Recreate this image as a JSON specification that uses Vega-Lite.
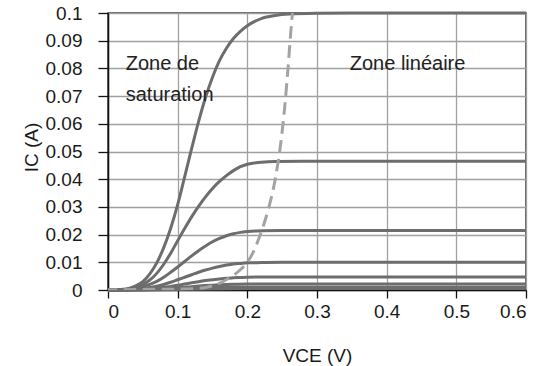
{
  "$schema": "https://vega.github.io/schema/vega-lite/v6.json",
  "width": 418,
  "height": 277,
  "autosize": "none",
  "padding": {"left": 108, "top": 13, "right": 10, "bottom": 76},
  "background": "white",
  "config": {
    "font": "Liberation Sans",
    "view": {"stroke": "#333333", "strokeWidth": 1.5},
    "axis": {
      "labelFont": "Liberation Sans",
      "labelFontSize": 19,
      "labelColor": "#1a1a1a",
      "titleFont": "Liberation Sans",
      "titleFontSize": 19,
      "titleFontWeight": "normal",
      "titleColor": "#1a1a1a",
      "domainColor": "#111111",
      "domainWidth": 1.5,
      "tickColor": "#111111",
      "tickWidth": 1.3,
      "gridColor": "#a0a0a0",
      "gridWidth": 1.3,
      "gridOpacity": 1
    }
  },
  "datasets": {
    "curves": [
      {"s":1,"v":0,"I":0},{"s":1,"v":0.01,"I":0},{"s":1,"v":0.02,"I":0.0002},{"s":1,"v":0.03,"I":0.0006},{"s":1,"v":0.04,"I":0.0015},{"s":1,"v":0.05,"I":0.003},{"s":1,"v":0.06,"I":0.0058},{"s":1,"v":0.07,"I":0.0098},{"s":1,"v":0.08,"I":0.0153},{"s":1,"v":0.09,"I":0.0223},{"s":1,"v":0.1,"I":0.0308},{"s":1,"v":0.11,"I":0.0408},{"s":1,"v":0.12,"I":0.051},{"s":1,"v":0.13,"I":0.0608},{"s":1,"v":0.14,"I":0.0695},{"s":1,"v":0.15,"I":0.0768},{"s":1,"v":0.16,"I":0.0828},{"s":1,"v":0.17,"I":0.0873},{"s":1,"v":0.18,"I":0.0908},{"s":1,"v":0.19,"I":0.0934},{"s":1,"v":0.2,"I":0.0954},{"s":1,"v":0.22,"I":0.098},{"s":1,"v":0.24,"I":0.0991},{"s":1,"v":0.26,"I":0.0996},{"s":1,"v":0.3,"I":0.0999},{"s":1,"v":0.35,"I":0.1},{"s":1,"v":0.6,"I":0.1},
      {"s":2,"v":0,"I":0},{"s":2,"v":0.01,"I":0},{"s":2,"v":0.02,"I":0.0001},{"s":2,"v":0.03,"I":0.0004},{"s":2,"v":0.04,"I":0.001},{"s":2,"v":0.05,"I":0.002},{"s":2,"v":0.06,"I":0.0036},{"s":2,"v":0.07,"I":0.006},{"s":2,"v":0.08,"I":0.0093},{"s":2,"v":0.09,"I":0.0133},{"s":2,"v":0.1,"I":0.0178},{"s":2,"v":0.11,"I":0.0222},{"s":2,"v":0.12,"I":0.0264},{"s":2,"v":0.13,"I":0.0302},{"s":2,"v":0.14,"I":0.0336},{"s":2,"v":0.15,"I":0.0366},{"s":2,"v":0.16,"I":0.0392},{"s":2,"v":0.17,"I":0.0413},{"s":2,"v":0.18,"I":0.0431},{"s":2,"v":0.19,"I":0.0445},{"s":2,"v":0.2,"I":0.0454},{"s":2,"v":0.22,"I":0.0461},{"s":2,"v":0.24,"I":0.0464},{"s":2,"v":0.28,"I":0.0465},{"s":2,"v":0.6,"I":0.0465},
      {"s":3,"v":0,"I":0},{"s":3,"v":0.02,"I":0.0001},{"s":3,"v":0.03,"I":0.0003},{"s":3,"v":0.04,"I":0.0006},{"s":3,"v":0.05,"I":0.0012},{"s":3,"v":0.06,"I":0.002},{"s":3,"v":0.07,"I":0.0031},{"s":3,"v":0.08,"I":0.0046},{"s":3,"v":0.09,"I":0.0064},{"s":3,"v":0.1,"I":0.0083},{"s":3,"v":0.11,"I":0.0103},{"s":3,"v":0.12,"I":0.0123},{"s":3,"v":0.13,"I":0.0142},{"s":3,"v":0.14,"I":0.0159},{"s":3,"v":0.15,"I":0.0174},{"s":3,"v":0.16,"I":0.0186},{"s":3,"v":0.17,"I":0.0196},{"s":3,"v":0.18,"I":0.0203},{"s":3,"v":0.19,"I":0.0208},{"s":3,"v":0.2,"I":0.0211},{"s":3,"v":0.22,"I":0.0214},{"s":3,"v":0.25,"I":0.0215},{"s":3,"v":0.6,"I":0.0215},
      {"s":4,"v":0,"I":0},{"s":4,"v":0.02,"I":0.0001},{"s":4,"v":0.03,"I":0.0002},{"s":4,"v":0.04,"I":0.0003},{"s":4,"v":0.05,"I":0.0006},{"s":4,"v":0.06,"I":0.0009},{"s":4,"v":0.07,"I":0.0014},{"s":4,"v":0.08,"I":0.002},{"s":4,"v":0.09,"I":0.0028},{"s":4,"v":0.1,"I":0.0037},{"s":4,"v":0.11,"I":0.0046},{"s":4,"v":0.12,"I":0.0055},{"s":4,"v":0.13,"I":0.0064},{"s":4,"v":0.14,"I":0.0072},{"s":4,"v":0.15,"I":0.0079},{"s":4,"v":0.16,"I":0.0085},{"s":4,"v":0.17,"I":0.009},{"s":4,"v":0.18,"I":0.0094},{"s":4,"v":0.19,"I":0.0096},{"s":4,"v":0.2,"I":0.0098},{"s":4,"v":0.22,"I":0.0099},{"s":4,"v":0.25,"I":0.01},{"s":4,"v":0.6,"I":0.01},
      {"s":5,"v":0,"I":0},{"s":5,"v":0.03,"I":0.0001},{"s":5,"v":0.05,"I":0.0003},{"s":5,"v":0.07,"I":0.0007},{"s":5,"v":0.08,"I":0.001},{"s":5,"v":0.09,"I":0.0013},{"s":5,"v":0.1,"I":0.0017},{"s":5,"v":0.11,"I":0.0022},{"s":5,"v":0.12,"I":0.0026},{"s":5,"v":0.13,"I":0.003},{"s":5,"v":0.14,"I":0.0034},{"s":5,"v":0.15,"I":0.0037},{"s":5,"v":0.16,"I":0.004},{"s":5,"v":0.17,"I":0.0042},{"s":5,"v":0.18,"I":0.0044},{"s":5,"v":0.19,"I":0.0045},{"s":5,"v":0.2,"I":0.0046},{"s":5,"v":0.23,"I":0.0047},{"s":5,"v":0.6,"I":0.0047},
      {"s":6,"v":0,"I":0},{"s":6,"v":0.05,"I":0.0001},{"s":6,"v":0.08,"I":0.0005},{"s":6,"v":0.1,"I":0.0008},{"s":6,"v":0.12,"I":0.0012},{"s":6,"v":0.14,"I":0.0016},{"s":6,"v":0.16,"I":0.0019},{"s":6,"v":0.18,"I":0.0021},{"s":6,"v":0.2,"I":0.0022},{"s":6,"v":0.6,"I":0.0022},
      {"s":7,"v":0,"I":0},{"s":7,"v":0.08,"I":0.0002},{"s":7,"v":0.1,"I":0.0004},{"s":7,"v":0.12,"I":0.0006},{"s":7,"v":0.14,"I":0.0008},{"s":7,"v":0.17,"I":0.00095},{"s":7,"v":0.2,"I":0.001},{"s":7,"v":0.6,"I":0.001},
      {"s":8,"v":0,"I":0},{"s":8,"v":0.1,"I":0.0002},{"s":8,"v":0.14,"I":0.0004},{"s":8,"v":0.2,"I":0.0005},{"s":8,"v":0.6,"I":0.0005}
    ],
    "locus": [
      {"v":0,"I":0},{"v":0.05,"I":0.0002},{"v":0.1,"I":0.0003},{"v":0.13,"I":0.0006},{"v":0.145,"I":0.0012},{"v":0.158,"I":0.0022},{"v":0.175,"I":0.0045},{"v":0.19,"I":0.0073},{"v":0.2,"I":0.01},{"v":0.21,"I":0.0145},{"v":0.22,"I":0.021},{"v":0.23,"I":0.029},{"v":0.24,"I":0.04},{"v":0.248,"I":0.053},{"v":0.254,"I":0.067},{"v":0.259,"I":0.082},{"v":0.262,"I":0.092},{"v":0.2655,"I":0.102}
    ],
    "labels": [
      {"t":"Zone de","v":0.0254,"I":0.0794},
      {"t":"saturation","v":0.0254,"I":0.0682},
      {"t":"Zone linéaire","v":0.347,"I":0.0794}
    ]
  },
  "encoding": {
    "x": {"field": "v", "type": "quantitative", "scale": {"domain": [0, 0.6], "nice": false},
      "axis": {"values": [0,0.1,0.2,0.3,0.4,0.5,0.6], "format": "~g", "tickSize": 8, "labelPadding": 4, "labelOverlap": false, "title": "VCE (V)", "titleX": 209, "titleY": 71, "titleBaseline": "alphabetic", "titleAlign": "center"}},
    "y": {"field": "I", "type": "quantitative", "scale": {"domain": [0, 0.1], "nice": false},
      "axis": {"values": [0,0.01,0.02,0.03,0.04,0.05,0.06,0.07,0.08,0.09,0.1], "tickCount": 11, "format": "~g", "tickSize": 10, "labelPadding": 16, "labelOverlap": false, "labelBound": false, "labelFlush": false, "title": "IC (A)", "titleX": -77, "titleY": 134, "titleAngle": -90, "titleAlign": "center", "titleBaseline": "middle"}}
  },
  "layer": [
    {
      "data": {"name": "curves"},
      "mark": {"type": "line", "color": "#6d6d6d", "strokeWidth": 3, "interpolate": "monotone"},
      "encoding": {
        "detail": {"field": "s", "type": "nominal"}
      }
    },
    {
      "data": {"name": "locus"},
      "mark": {"type": "line", "color": "#a3a3a3", "strokeWidth": 3, "strokeDash": [12.5, 6.5], "interpolate": "monotone", "clip": true},
      "encoding": {
        "order": {"field": "v", "sort": "descending"}
      }
    },
    {
      "data": {"name": "labels"},
      "mark": {"type": "text", "align": "left", "baseline": "alphabetic", "fontSize": 20, "color": "#222222", "font": "Liberation Sans"},
      "encoding": {
        "text": {"field": "t"}
      }
    }
  ]
}
